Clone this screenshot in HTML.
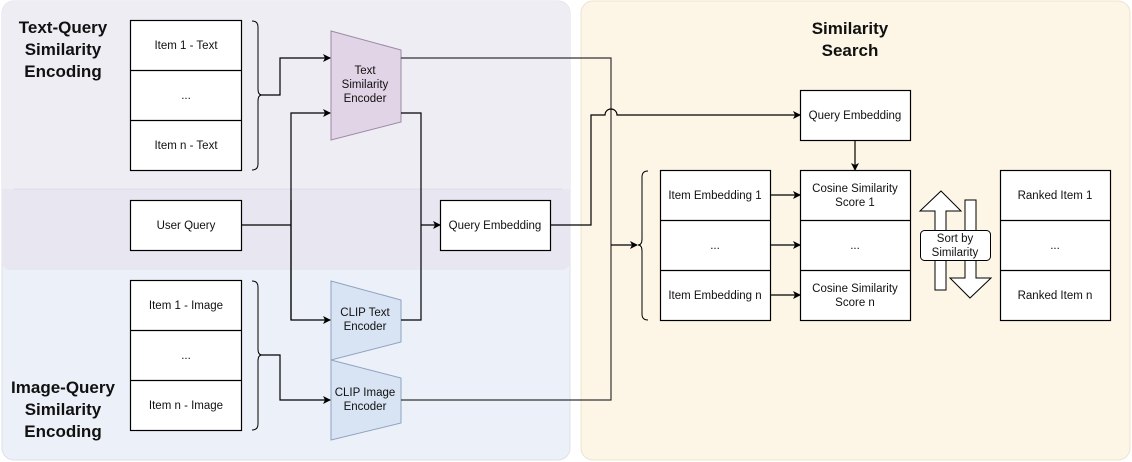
<!DOCTYPE html>
<html><head><meta charset="utf-8"><style>
html,body{margin:0;padding:0;background:#fff;}
svg{display:block;font-family:"Liberation Sans",Arial,sans-serif;}
</style></head><body>
<svg width="1132" height="462" viewBox="0 0 1132 462" xmlns="http://www.w3.org/2000/svg">
<defs>
<marker id="a" markerWidth="8" markerHeight="8" refX="7" refY="4" orient="auto" markerUnits="userSpaceOnUse"><path d="M0,0 L8,4 L0,8 L2,4 z" fill="#000"/></marker>
</defs>
<!-- panels -->
<rect x="2" y="1" width="568" height="459" rx="12" fill="#ecf1f9" stroke="#dde0e8"/>
<path d="M2,13 a12,12 0 0 1 12,-12 H558 a12,12 0 0 1 12,12 V262 a8,8 0 0 1 -8,8 H10 a8,8 0 0 1 -8,-8 Z" fill="#efedf4"/>
<path d="M14,189 H570 V262 a8,8 0 0 1 -8,8 H10 a8,8 0 0 1 -8,-8 V189 Z" fill="#e8e6f0"/>
<line x1="14" y1="189" x2="562" y2="189" stroke="#dcdae4"/>
<rect x="581" y="1" width="549" height="459" rx="12" fill="#fdf6e6" stroke="#ece4d2"/>

<g font-weight="bold" font-size="17" text-anchor="middle" fill="#111">
<text x="63" y="33">Text-Query</text><text x="63" y="55">Similarity</text><text x="63" y="77">Encoding</text>
<text x="63" y="393">Image-Query</text><text x="63" y="415">Similarity</text><text x="63" y="437">Encoding</text>
<text x="850" y="34">Similarity</text><text x="850" y="56">Search</text>
</g>

<g fill="#fff" stroke="#000" stroke-width="1.2">
<rect x="130.5" y="20.5" width="111" height="150"/>
<line x1="130.5" y1="70.5" x2="241.5" y2="70.5"/><line x1="130.5" y1="120.5" x2="241.5" y2="120.5"/>
<rect x="130.5" y="200.5" width="111" height="50"/>
<rect x="130.5" y="280.5" width="111" height="150"/>
<line x1="130.5" y1="330.5" x2="241.5" y2="330.5"/><line x1="130.5" y1="380.5" x2="241.5" y2="380.5"/>
<rect x="440.5" y="200.5" width="110" height="50"/>
<rect x="800.5" y="90.5" width="110" height="50"/>
<rect x="660.5" y="170.5" width="110" height="150"/>
<line x1="660.5" y1="220.5" x2="770.5" y2="220.5"/><line x1="660.5" y1="270.5" x2="770.5" y2="270.5"/>
<rect x="800.5" y="170.5" width="110" height="150"/>
<line x1="800.5" y1="220.5" x2="910.5" y2="220.5"/><line x1="800.5" y1="270.5" x2="910.5" y2="270.5"/>
<rect x="1000.5" y="170.5" width="110" height="150"/>
<line x1="1000.5" y1="220.5" x2="1110.5" y2="220.5"/><line x1="1000.5" y1="270.5" x2="1110.5" y2="270.5"/>
</g>

<!-- encoders -->
<polygon points="331,31 401,50 401,122 331,140" fill="#e1d4e6" stroke="#9a8aa5"/>
<polygon points="331,281 401,300 401,342 331,360" fill="#d8e4f4" stroke="#8ea3c0"/>
<polygon points="331,360 401,378 401,423 331,440" fill="#d8e4f4" stroke="#8ea3c0"/>

<!-- braces -->
<g fill="none" stroke="#000" stroke-width="1">
<path d="M252,21 q6,0 6,6 V89 q0,6 4,6 q-4,0 -4,6 V164 q0,6 -6,6"/>
<path d="M252,281 q6,0 6,6 V349 q0,6 4,6 q-4,0 -4,6 V424 q0,6 -6,6"/>
<path d="M648,171 q-6,0 -6,6 V239 q0,6 -4,6 q4,0 4,6 V314 q0,6 6,6"/>
</g>

<!-- connectors -->
<g fill="none" stroke="#000" stroke-width="1.2">
<path d="M262,95 H280 V58 H330" marker-end="url(#a)"/>
<path d="M262,355 H280 V400 H330" marker-end="url(#a)"/>
<path d="M241,225 H291"/>
<path d="M291,320 V113 H330" marker-end="url(#a)"/>
<path d="M291,200 V320 H330" marker-end="url(#a)"/>
<path d="M401,113 H421 V320 H401"/>
<path d="M421,225 H440" marker-end="url(#a)"/>
<path d="M401,58 H611 V400 H401" stroke="#333"/>
<path d="M611,245 H637" marker-end="url(#a)"/>
<path d="M551,225 H591 V115 H605 a6,6 0 0 1 12,0 H800" marker-end="url(#a)"/>
<path d="M855,141 V170" marker-end="url(#a)"/>
<path d="M771,195 H800" marker-end="url(#a)"/>
<path d="M771,245 H800" marker-end="url(#a)"/>
<path d="M771,295 H800" marker-end="url(#a)"/>
</g>

<!-- sort arrows -->
<polygon points="941,191 961,211 946,211 946,290 935,290 935,211 920,211" fill="#fff" stroke="#000"/>
<polygon points="965,200 976,200 976,278 991,278 970,298 950,278 965,278" fill="#fff" stroke="#000"/>
<rect x="920.5" y="230.5" width="70" height="30" rx="4" fill="#fff" stroke="#000"/>

<g font-size="11.5" text-anchor="middle" fill="#111">
<text x="186" y="49">Item 1 - Text</text><text x="186" y="99">...</text><text x="186" y="149">Item n - Text</text>
<text x="186" y="229">User Query</text>
<text x="186" y="309">Item 1 - Image</text><text x="186" y="359">...</text><text x="186" y="409">Item n - Image</text>
<text x="365" y="74">Text</text><text x="365" y="88">Similarity</text><text x="365" y="102">Encoder</text>
<text x="365" y="316">CLIP Text</text><text x="365" y="330">Encoder</text>
<text x="365" y="396">CLIP Image</text><text x="365" y="410">Encoder</text>
<text x="495" y="229">Query Embedding</text>
<text x="855" y="119">Query Embedding</text>
<text x="715" y="199">Item Embedding 1</text><text x="715" y="249">...</text><text x="715" y="299">Item Embedding n</text>
<text x="855" y="192">Cosine Similarity</text><text x="855" y="206">Score 1</text>
<text x="855" y="249">...</text>
<text x="855" y="292">Cosine Similarity</text><text x="855" y="306">Score n</text>
<text x="1055" y="199">Ranked Item 1</text><text x="1055" y="249">...</text><text x="1055" y="299">Ranked Item n</text>
<text x="955" y="242">Sort by</text><text x="955" y="256">Similarity</text>
</g>
</svg>
</body></html>
